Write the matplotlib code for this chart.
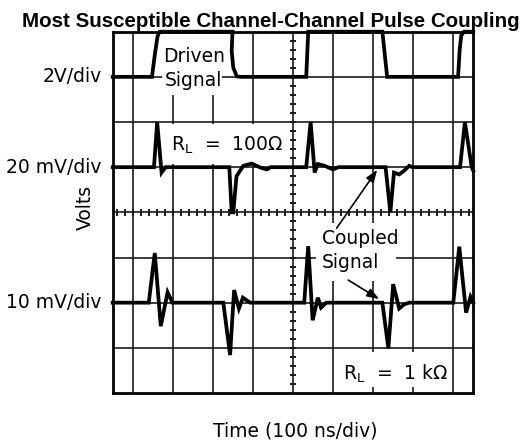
import numpy as np
import matplotlib.pyplot as plt
from matplotlib.patches import Rectangle

# scope traces, in screen divisions (x: -4.5..4.5, y: -4..4)
drv_t = [-4.5, -3.52, -3.44, -3.38, -3.33, -1.51, -1.53, -1.49, -1.40, -1.32,
         0.33, 0.38, 2.23, 2.35, 4.12, 4.16, 4.20, 4.27, 4.5]
drv_v = [3.0, 3.0, 3.55, 3.9, 4.0, 4.0, 3.57, 3.2, 3.01, 3.0,
         3.0, 4.0, 4.0, 3.0, 3.0, 3.6, 3.92, 4.0, 4.0]

r100_t = [-4.5, -3.47, -3.39, -3.28, -3.18, -1.59, -1.53, -1.49, -1.41, -1.24,
          -1.03, -0.81, -0.65, -0.56, 0.33, 0.44, 0.54, 0.62, 0.79, 1.0, 1.13,
          2.31, 2.43, 2.52, 2.65, 2.77, 2.90, 2.98, 4.17, 4.29, 4.46, 4.5]
r100_v = [1.0, 1.0, 2.0, 0.88, 1.0, 1.0, 0.0, 0.0, 0.80, 1.03,
          1.08, 0.99, 0.95, 1.0, 1.0, 2.0, 0.88, 1.07, 1.03, 0.95, 1.0,
          1.0, 0.0, 0.88, 0.84, 0.92, 1.03, 1.0, 1.0, 2.0, 1.0, 0.92]

r1k_t = [-4.5, -3.60, -3.45, -3.30, -3.13, -3.01, -1.74, -1.57, -1.47, -1.35,
         -1.25, -1.07, 0.28, 0.38, 0.49, 0.62, 0.70, 0.83, 2.23, 2.38, 2.50,
         2.65, 2.77, 2.90, 4.0, 4.15, 4.32, 4.43, 4.5]
r1k_v = [-2.0, -2.0, -0.90, -2.52, -1.77, -2.0, -2.0, -3.16, -1.72, -2.13,
         -1.89, -2.0, -2.0, -0.75, -2.39, -1.89, -2.11, -2.0, -2.0, -3.01, -1.59,
         -2.13, -2.04, -2.0, -2.0, -0.76, -2.22, -1.87, -2.0]

plt.rcParams['font.family'] = ['DejaVu Sans']
fig = plt.figure(figsize=(5.32, 4.43), dpi=100)
ax = fig.add_axes([112.7/532, 1-393/443, (473.3-112.7)/532, (393-31.7)/443])
ax.set_xlim(-4.5, 4.5)
ax.set_ylim(-4, 4)
ax.set_xticks([])
ax.set_yticks([])
for s in ax.spines.values():
    s.set_linewidth(2.0)

# graticule
gc = '#1a1a1a'
for gx in range(-4, 5):
    ax.axvline(gx, color=gc, lw=1.2, zorder=1)
for gy in range(-3, 4):
    ax.axhline(gy, color=gc, lw=1.2, zorder=1)
minor_x = np.arange(-4.4, 4.45, 0.2)
minor_y = np.arange(-3.8, 3.85, 0.2)
ax.vlines(minor_x, -0.08, 0.08, color=gc, lw=1.4, zorder=1)
ax.hlines(minor_y, -0.085, 0.085, color=gc, lw=1.4, zorder=1)

# white label boxes
for (x0, y0, x1, y1) in [(-3.26, 2.6, -1.78, 4.0), (-3.18, 1.07, -0.10, 1.96),
                         (1.1, -3.87, 3.95, -3.1), (0.58, -1.51, 2.56, -0.24)]:
    ax.add_patch(Rectangle((x0, y0), x1-x0, y1-y0, facecolor='white',
                           edgecolor='none', zorder=2))

for t, v in [(drv_t, drv_v), (r100_t, r100_v), (r1k_t, r1k_v)]:
    ax.plot(t, v, color='black', lw=2.7, zorder=3, clip_on=False,
            solid_joinstyle='miter')

fs = 13.5
ax.text(-2.48, 3.44, 'Driven', fontsize=fs, ha='center', va='center', zorder=4)
ax.text(-2.48, 2.93, 'Signal', fontsize=fs, ha='center', va='center', zorder=4)
ax.text(-1.64, 1.48, 'R$_\\mathsf{L}$  =  100Ω', fontsize=fs, ha='center', va='center', zorder=4)
ax.text(2.55, -3.58, 'R$_\\mathsf{L}$  =  1 kΩ', fontsize=fs, ha='center', va='center', zorder=4)
ax.text(0.72, -0.57, 'Coupled', fontsize=fs, ha='left', va='center', zorder=4)
ax.text(0.72, -1.10, 'Signal', fontsize=fs, ha='left', va='center', zorder=4)

arw = dict(arrowstyle='-|>,head_length=0.6,head_width=0.22', color='black',
           lw=1.2, mutation_scale=12, shrinkA=0, shrinkB=0)
ax.annotate('', xy=(2.10, 0.94), xytext=(1.09, -0.35), arrowprops=arw, zorder=4)
ax.annotate('', xy=(2.15, -1.92), xytext=(1.38, -1.50), arrowprops=arw, zorder=4)

# channel scale labels
for yy, lab in [(3.0, '2V/div'), (1.0, '20 mV/div'), (-2.0, '10 mV/div')]:
    ax.text(-4.78, yy, lab, fontsize=fs, ha='right', va='center', clip_on=False)
ax.text(-5.19, 0.1, 'Volts', fontsize=fs, rotation=90, ha='center', va='center',
        clip_on=False)
ax.text(0.05, -4.84, 'Time (100 ns/div)', fontsize=fs, ha='center', va='center',
        clip_on=False)

fig.text(270.5/532, 1-27/443, 'Most Susceptible Channel-Channel Pulse Coupling',
         fontsize=14.8, fontweight='bold', family='Liberation Sans',
         ha='center', va='baseline')

fig.savefig('out.png', dpi=100)
